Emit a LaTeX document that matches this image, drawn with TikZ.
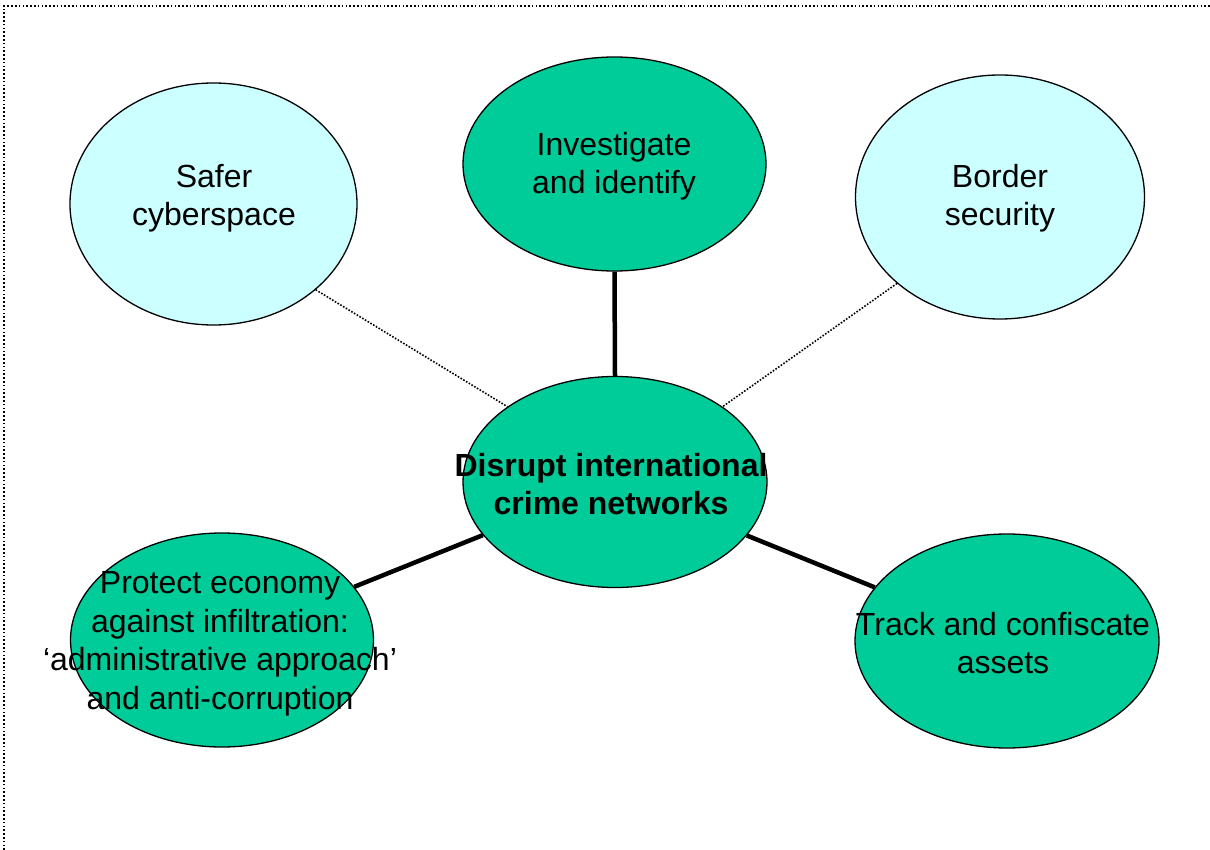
\documentclass[tikz,border=0pt]{standalone}
\usepackage{fontspec}
\setmainfont{Liberation Sans}
\usetikzlibrary{shapes.geometric}
\definecolor{seagreen}{HTML}{00CC99}
\definecolor{palecyan}{HTML}{CCFFFF}
\begin{document}
\begin{tikzpicture}[x=1pt,y=-1pt,
  blob/.style={ellipse, draw=black, line width=1.3pt, inner sep=0pt},
  greenblob/.style={blob, fill=seagreen},
  cyanblob/.style={blob, fill=palecyan},
  lbl/.style={align=center, font=\fontsize{32}{38.5}\selectfont, inner sep=0pt},
  strong/.style={line width=4.5pt},
  weak/.style={line width=1.6pt, dash pattern=on 1.6pt off 1.6pt},
  frame/.style={line width=1.5pt, dash pattern=on 1.6pt off 2.2pt}]
\useasboundingbox (0,0) rectangle (1210,850);
\coordinate (fbl) at (4,850);
\coordinate (ftl) at (4,6);
\coordinate (ftr) at (1210,6);
\draw[frame] (fbl) -- (ftl) -- (ftr);

\node[cyanblob, minimum width=287pt, minimum height=242pt] (safer) at (213.5,204) {};
\node[greenblob, minimum width=303pt, minimum height=214pt] (inv) at (614.5,164) {};
\node[cyanblob, minimum width=289pt, minimum height=244pt] (border) at (1000,197) {};
\node[greenblob, minimum width=304pt, minimum height=211pt] (center) at (615,482) {};
\node[greenblob, minimum width=303pt, minimum height=214pt] (protect) at (222,640) {};
\node[greenblob, minimum width=304pt, minimum height=214pt] (track) at (1007,641) {};

\draw[strong] (inv.south) -- (center.north);
\draw[strong] (center) -- (protect);
\draw[strong] (center) -- (track);
\draw[weak] (safer.-40) -- (center.145);
\draw[weak] (border.-140.5) -- (center.35);

\node[lbl] (safer-t) at (214,198) {Safer\\cyberspace};
\node[lbl] (inv-t) at (614,166) {Investigate\\and identify};
\node[lbl] (border-t) at (1000,198) {Border\\security};
\node[lbl, font=\fontsize{32}{38.5}\selectfont\bfseries] (center-t) at (611,484) {Disrupt international\\crime networks};
\node[lbl] (protect-t) at (220,644) {Protect economy\\against infiltration:\\‘administrative approach’\\and anti-corruption};
\node[lbl] (track-t) at (1003,643) {Track and confiscate\\assets};
\end{tikzpicture}
\end{document}
